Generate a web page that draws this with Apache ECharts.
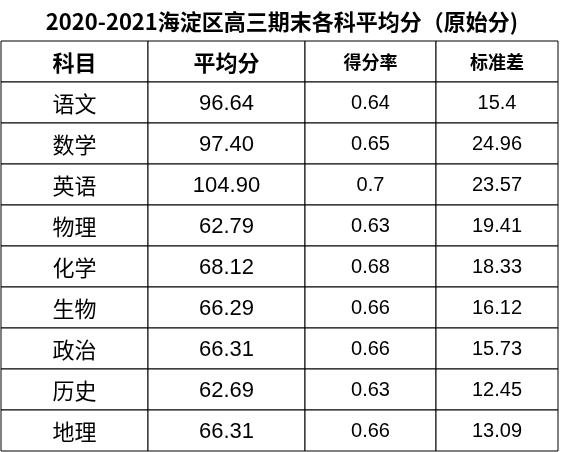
<!DOCTYPE html>
<html><head><meta charset="utf-8">
<script src="https://cdn.jsdelivr.net/npm/echarts@6/dist/echarts.min.js"></script>
<style>html,body{margin:0;padding:0;background:#fff}#c{width:564px;height:452px}</style>
</head><body><div id="c"></div>
<script>
const title = '2020-2021海淀区高三期末各科平均分（原始分)';
const headers = ['科目', '平均分', '得分率', '标准差'];
const subjects = ['语文','数学','英语','物理','化学','生物','政治','历史','地理'];
const avgScores = ['96.64','97.40','104.90','62.79','68.12','66.29','66.31','62.69','66.31'];
const scoreRates = ['0.64','0.65','0.7','0.63','0.68','0.66','0.66','0.63','0.66'];
const stdDevs = ['15.4','24.96','23.57','19.41','18.33','16.12','15.73','12.45','13.09'];

const colEdges = [1, 148, 305, 436, 558];
const rowEdges = [0, 41, 82, 123, 164, 205, 246, 287, 328, 369, 410, 451];

const cells = [];
cells.push([0, 0, title, 'title']);
headers.forEach((h, i) => cells.push([i, 1, h, 'head']));
subjects.forEach((s, r) => {
  [s, avgScores[r], scoreRates[r], stdDevs[r]].forEach((v, c) => cells.push([c, r + 2, v, 'body']));
});

const chart = echarts.init(document.getElementById('c'));
chart.setOption({
  animation: false,
  grid: {left: 0, right: 0, top: 0, bottom: 0},
  xAxis: {type: 'value', min: 0, max: 564, show: false},
  yAxis: {type: 'value', min: 0, max: 452, inverse: true, show: false},
  series: [{
    type: 'custom',
    data: cells,
    renderItem: function (params, api) {
      const c = api.value(0), r = api.value(1);
      const d = cells[params.dataIndex];
      const kind = d[3];
      let x0 = colEdges[c], x1 = colEdges[c + 1];
      if (kind === 'title') { x0 = 0; x1 = 564; }
      const p0 = api.coord([x0, rowEdges[r]]);
      const p1 = api.coord([x1, rowEdges[r + 1]]);
      const w = p1[0] - p0[0], h = p1[1] - p0[1];
      const cjk = /[\u4e00-\u9fff]/.test(d[2]);
      let font;
      if (kind === 'title') font = 'bold 22px "Noto Sans CJK SC"';
      else if (kind === 'head') font = (c >= 2 ? 'bold 18px' : 'bold 22px') + ' "Noto Sans CJK SC"';
      else if (c === 0) font = '22px "Noto Sans CJK SC"';
      else font = (c === 1 ? '22px' : '20px') + ' "Liberation Sans"';
      const children = [];
      if (kind !== 'title') {
        children.push({type: 'rect', shape: {x: p0[0], y: p0[1], width: w, height: h},
          style: {fill: '#fff', stroke: '#000', lineWidth: 1}});
      }
      children.push({type: 'text', style: {x: p0[0] + w / 2, y: p0[1] + h / 2 + 1, text: d[2], font: font,
        fill: '#000', align: 'center', verticalAlign: 'middle'}});
      return {type: 'group', children: children};
    }
  }]
});
</script></body></html>
